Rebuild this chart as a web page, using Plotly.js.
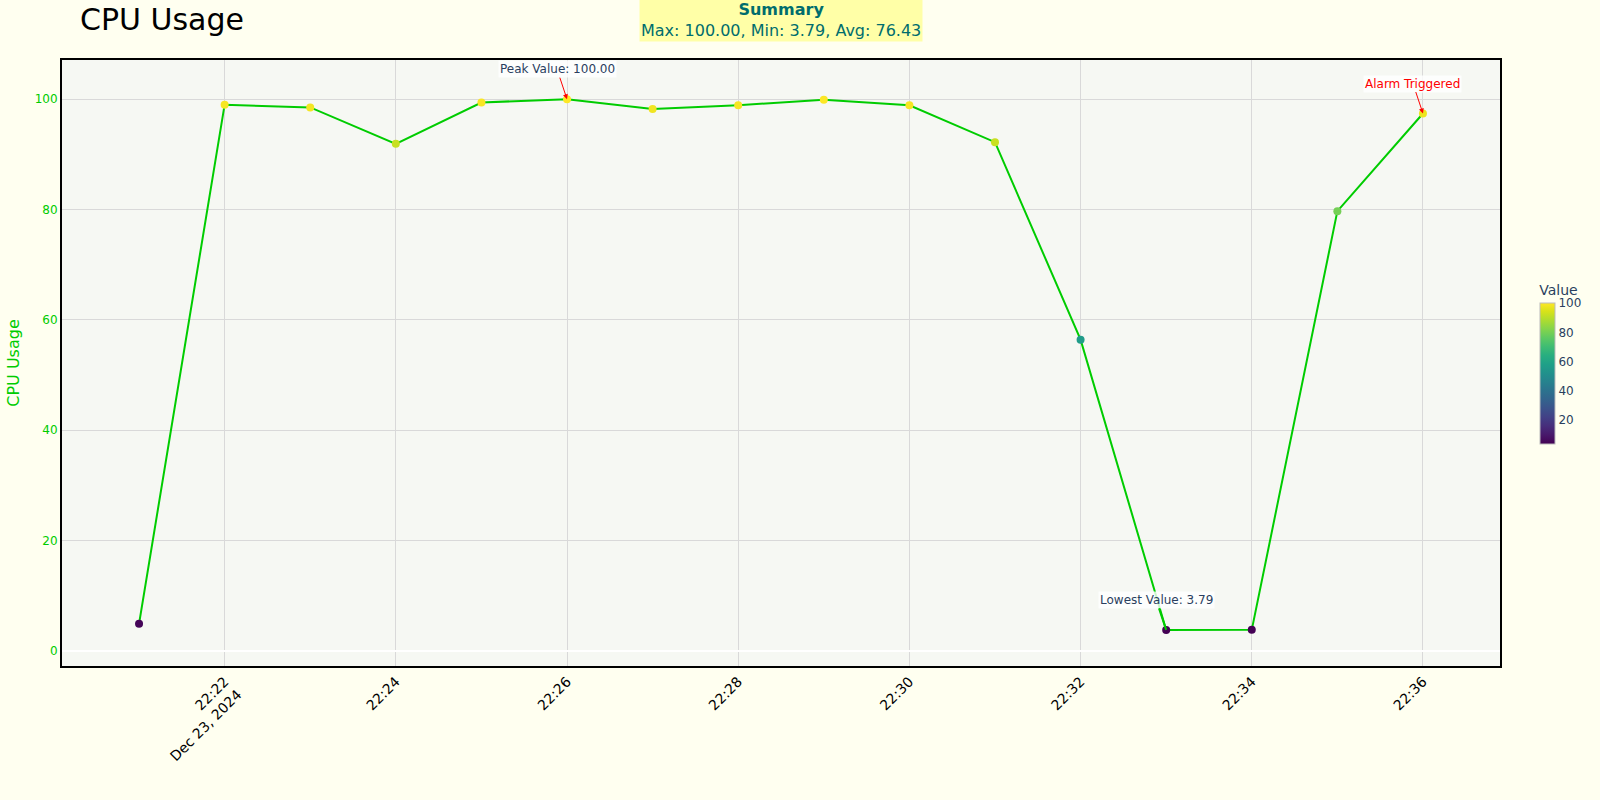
<!DOCTYPE html>
<html>
<head>
<meta charset="utf-8">
<script src="https://cdn.plot.ly/plotly-3.0.1.min.js"></script>
<style>html,body{margin:0;padding:0;background:#fffff0;}</style>
</head>
<body>
<div id="chart" style="width:1600px;height:800px;"></div>
<script>
const times = [
  "2024-12-23 22:21:00","2024-12-23 22:22:00","2024-12-23 22:23:00","2024-12-23 22:24:00",
  "2024-12-23 22:25:00","2024-12-23 22:26:00","2024-12-23 22:27:00","2024-12-23 22:28:00",
  "2024-12-23 22:29:00","2024-12-23 22:30:00","2024-12-23 22:31:00","2024-12-23 22:32:00",
  "2024-12-23 22:33:00","2024-12-23 22:34:00","2024-12-23 22:35:00","2024-12-23 22:36:00"
];
const cpuValues = [4.9, 99.0, 98.5, 91.9, 99.4, 100.0, 98.2, 98.9, 99.9, 98.9, 92.2, 56.4, 3.79, 3.8, 79.7, 97.4];

const maxV = Math.max(...cpuValues);
const minV = Math.min(...cpuValues);
const avgV = cpuValues.reduce((a,b)=>a+b,0)/cpuValues.length;
const maxIdx = cpuValues.indexOf(maxV);
const minIdx = cpuValues.indexOf(minV);
const lastIdx = cpuValues.length - 1;

const font = "DejaVu Sans, sans-serif";
const green = "#00cc00";

const trace = {
  x: times, y: cpuValues, type: "scatter", mode: "lines+markers", name: "CPU Usage",
  line: {color: green, width: 2},
  marker: {size: 8, color: cpuValues, colorscale: "Viridis", showscale: true,
    colorbar: {title: {text: "Value", side: "top", font: {size: 14, color: "#2a3f5f"}}, len: 0.3, thickness: 15,
      tickfont: {size: 12, color: "#2a3f5f"}, outlinewidth: 1, outlinecolor: "#bbb"}}
};

const layout = {
  width: 1600, height: 800,
  paper_bgcolor: "#fffff0", plot_bgcolor: "#f6f8f3",
  font: {family: font},
  margin: {l: 62, r: 99, t: 60, b: 134},
  showlegend: false,
  title: {text: "CPU Usage", x: 0.05, xref: "container", xanchor: "left", y: 0.976, yanchor: "middle", font: {size: 30, color: "#000"}},
  xaxis: {type: "date", range: ["2024-12-23 22:20:06", "2024-12-23 22:36:54"],
    tickangle: -45, tickfont: {size: 14, color: "#000"}, gridcolor: "#d9d9d9",
    showline: true, linecolor: "#000", linewidth: 2, mirror: true, zeroline: false},
  yaxis: {range: [-2.75, 107.1], title: {text: "CPU Usage", font: {size: 16, color: green}},
    tickfont: {size: 12, color: green}, gridcolor: "#d9d9d9", dtick: 20,
    zeroline: true, zerolinecolor: "#ffffff", zerolinewidth: 2,
    showline: true, linecolor: "#000", linewidth: 2, mirror: true},
  annotations: [
    {x: times[maxIdx], y: maxV, text: "Peak Value: " + maxV.toFixed(2), showarrow: true,
      arrowhead: 2, arrowsize: 1, arrowwidth: 1, arrowcolor: "red", ax: -10, ay: -30,
      bgcolor: "rgba(255,255,255,0.8)", font: {size: 12, color: "#2a3f5f"}},
    {x: times[minIdx], y: minV, text: "Lowest Value: " + minV.toFixed(2), showarrow: true,
      arrowhead: 0, arrowwidth: 2, arrowcolor: green, ax: -10, ay: -30,
      bgcolor: "rgba(255,255,255,0.8)", font: {size: 12, color: "#2a3f5f"}},
    {x: times[lastIdx], y: cpuValues[lastIdx], text: "Alarm Triggered", showarrow: true,
      arrowhead: 2, arrowsize: 1, arrowwidth: 1, arrowcolor: "red", ax: -10, ay: -30,
      bgcolor: "rgba(255,255,255,0.8)", font: {size: 12, color: "red"}},
    {xref: "paper", yref: "paper", x: 0.5, y: 1.066, xanchor: "center", yanchor: "middle", showarrow: false,
      text: "<b>Summary</b><br>Max: " + maxV.toFixed(2) + ", Min: " + minV.toFixed(2) + ", Avg: " + avgV.toFixed(2),
      bgcolor: "rgba(255,255,0,0.3)", font: {size: 16, color: "#006d6d"}}
  ]
};

Plotly.newPlot("chart", [trace], layout, {displayModeBar: false});
</script>
</body>
</html>
